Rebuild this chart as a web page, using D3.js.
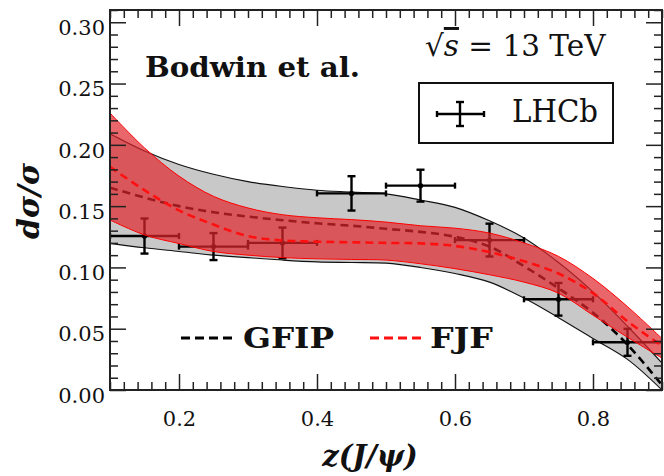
<!DOCTYPE html>
<html>
<head>
<meta charset="utf-8">
<script src="https://cdn.jsdelivr.net/npm/d3@7"></script>
<style>
  body { margin: 0; background: #fff; }
  svg { display: block; }
  text { font-family: "DejaVu Serif", serif; fill: #111; }
</style>
</head>
<body>
<svg id="chart" width="664" height="476"></svg>
<script>
// ---------------- data ----------------
const zGrid = [0.10,0.15,0.20,0.25,0.30,0.35,0.40,0.45,0.50,0.55,0.60,0.65,0.70,0.75,0.80,0.85,0.90];

const gfipUpper   = [0.209,0.195,0.184,0.176,0.170,0.166,0.163,0.1615,0.160,0.155,0.149,0.138,0.124,0.104,0.080,0.052,0.022];
const gfipCentral = [0.165,0.157,0.150,0.145,0.1415,0.1385,0.136,0.134,0.1315,0.129,0.125,0.117,0.101,0.083,0.063,0.037,0.004];
const gfipLower   = [0.1196,0.116,0.113,0.110,0.108,0.106,0.1045,0.104,0.1035,0.100,0.095,0.088,0.075,0.059,0.042,0.025,0.0];

const fjfUpper   = [0.226,0.1975,0.1745,0.158,0.1485,0.143,0.1405,0.139,0.137,0.134,0.132,0.128,0.120,0.109,0.091,0.068,0.042];
const fjfCentral = [0.182,0.163,0.1465,0.135,0.1255,0.122,0.121,0.1205,0.120,0.1196,0.1175,0.1125,0.105,0.095,0.079,0.056,0.036];
const fjfLower   = [0.1387,0.1265,0.1195,0.113,0.110,0.108,0.107,0.1065,0.106,0.103,0.099,0.094,0.088,0.079,0.061,0.043,0.026];

const lhcbZ      = [0.15,0.25,0.35,0.45,0.55,0.65,0.75,0.85];
const lhcbValue  = [0.1256,0.117,0.120,0.1604,0.1667,0.1223,0.074,0.0389];
const lhcbError  = [0.0143,0.011,0.0125,0.014,0.013,0.0134,0.0133,0.011];
const lhcbBinHalf = 0.05;

const yMajorTicks = [0.00,0.05,0.10,0.15,0.20,0.25,0.30];
const xMajorTicks = [0.2,0.4,0.6,0.8];

// ---------------- layout ----------------
const svg = d3.select("#chart");
const pL = 110, pR = 662, pT = 10, pB = 390;
const x = d3.scaleLinear().domain([0.1, 0.9]).range([pL, pR]);
const y = d3.scaleLinear().domain([0, 0.31]).range([pB, pT]);

svg.append("defs").append("clipPath").attr("id", "plotclip")
  .append("rect").attr("x", pL).attr("y", pT).attr("width", pR - pL).attr("height", pB - pT);

const plot = svg.append("g").attr("clip-path", "url(#plotclip)");
const curve = d3.curveCatmullRom.alpha(0.5);

const band = (up, lo) => d3.area().curve(curve)
  .x((d, i) => x(zGrid[i])).y0((d, i) => y(lo[i])).y1((d, i) => y(up[i]))(zGrid);
const line = arr => d3.line().curve(curve).x((d, i) => x(zGrid[i])).y((d, i) => y(arr[i]))(zGrid);

// GFIP band (grey)
plot.append("path").attr("d", band(gfipUpper, gfipLower)).attr("fill", "#c8c8c8");
plot.append("path").attr("d", line(gfipUpper)).attr("fill", "none").attr("stroke", "#111").attr("stroke-width", 1.1);
plot.append("path").attr("d", line(gfipLower)).attr("fill", "none").attr("stroke", "#111").attr("stroke-width", 1.1);
plot.append("path").attr("d", line(gfipCentral)).attr("fill", "none").attr("stroke", "#000")
  .attr("stroke-width", 2.6).attr("stroke-dasharray", "8,5");

// LHCb data points
const pts = plot.append("g").attr("stroke", "#000").attr("stroke-width", 2.4);
lhcbZ.forEach((z, i) => {
  const cx = x(z), cy = y(lhcbValue[i]);
  const x0 = x(z - lhcbBinHalf), x1 = x(z + lhcbBinHalf);
  const yt = y(lhcbValue[i] + lhcbError[i]), yb = y(lhcbValue[i] - lhcbError[i]);
  pts.append("line").attr("x1", x0).attr("x2", x1).attr("y1", cy).attr("y2", cy);
  pts.append("line").attr("x1", cx).attr("x2", cx).attr("y1", yt).attr("y2", yb);
  pts.append("line").attr("x1", cx - 4).attr("x2", cx + 4).attr("y1", yt).attr("y2", yt);
  pts.append("line").attr("x1", cx - 4).attr("x2", cx + 4).attr("y1", yb).attr("y2", yb);
  pts.append("line").attr("x1", x0).attr("x2", x0).attr("y1", cy - 3).attr("y2", cy + 3);
  pts.append("line").attr("x1", x1).attr("x2", x1).attr("y1", cy - 3).attr("y2", cy + 3);
  pts.append("circle").attr("cx", cx).attr("cy", cy).attr("r", 2.6).attr("fill", "#000").attr("stroke", "none");
});

// FJF band (red, translucent)
plot.append("path").attr("d", band(fjfUpper, fjfLower)).attr("fill", "#e0262c").attr("fill-opacity", 0.7);
plot.append("path").attr("d", line(fjfUpper)).attr("fill", "none").attr("stroke", "#f00").attr("stroke-width", 1);
plot.append("path").attr("d", line(fjfLower)).attr("fill", "none").attr("stroke", "#f00").attr("stroke-width", 1);
plot.append("path").attr("d", line(fjfCentral)).attr("fill", "none").attr("stroke", "#ff1010")
  .attr("stroke-width", 2.6).attr("stroke-dasharray", "8,5");

// ---------------- axes ----------------
const yMinor = d3.range(0, 0.3101, 0.01).filter(v => Math.abs(v * 20 - Math.round(v * 20)) > 1e-6);
const xMinor = d3.range(0.1, 0.9001, 0.02).filter(v => Math.abs(v * 5 - Math.round(v * 5)) > 1e-6);

function styleAxis(g) {
  g.select(".domain").remove();
  g.selectAll(".tick line").attr("stroke", "#222").attr("stroke-width", 1.5);
  g.selectAll(".tick text").attr("font-family", "DejaVu Serif").attr("font-size", 21).attr("fill", "#222");
}

// left
svg.append("g").attr("transform", `translate(${pL},0)`)
  .call(d3.axisLeft(y).tickValues(yMajorTicks).tickSize(-16).tickPadding(5).tickFormat(d3.format(".2f")))
  .call(styleAxis).selectAll(".tick text").attr("dy", "0.58em");
svg.append("g").attr("transform", `translate(${pL},0)`)
  .call(d3.axisLeft(y).tickValues(yMinor).tickSize(-8).tickFormat("")).call(styleAxis);
// right
svg.append("g").attr("transform", `translate(${pR},0)`)
  .call(d3.axisRight(y).tickValues(yMajorTicks).tickSize(-16).tickFormat("")).call(styleAxis);
svg.append("g").attr("transform", `translate(${pR},0)`)
  .call(d3.axisRight(y).tickValues(yMinor).tickSize(-8).tickFormat("")).call(styleAxis);
// bottom
svg.append("g").attr("transform", `translate(0,${pB})`)
  .call(d3.axisBottom(x).tickValues(xMajorTicks).tickSize(-16).tickPadding(21).tickFormat(d3.format(".1f")))
  .call(styleAxis);
svg.append("g").attr("transform", `translate(0,${pB})`)
  .call(d3.axisBottom(x).tickValues(xMinor).tickSize(-8).tickFormat("")).call(styleAxis);
// top
svg.append("g").attr("transform", `translate(0,${pT})`)
  .call(d3.axisTop(x).tickValues(xMajorTicks).tickSize(-16).tickFormat("")).call(styleAxis);
svg.append("g").attr("transform", `translate(0,${pT})`)
  .call(d3.axisTop(x).tickValues(xMinor).tickSize(-8).tickFormat("")).call(styleAxis);

// frame
svg.append("rect").attr("x", pL).attr("y", pT).attr("width", pR - pL).attr("height", pB - pT)
  .attr("fill", "none").attr("stroke", "#222").attr("stroke-width", 2);

// axis titles
svg.append("text").attr("transform", "translate(39,201) rotate(-90)").attr("text-anchor", "middle")
  .attr("font-size", 30).attr("font-weight", "bold").attr("font-style", "italic").text("dσ/σ");
svg.append("text").attr("x", 370).attr("y", 466).attr("text-anchor", "middle")
  .attr("font-size", 29).attr("font-style", "italic").attr("font-weight", "bold").text("z(J/ψ)");

// annotations
svg.append("text").attr("x", 145).attr("y", 77).attr("font-size", 28).attr("font-weight", "bold")
  .attr("textLength", 215).attr("lengthAdjust", "spacingAndGlyphs").text("Bodwin et al.");

const rs = svg.append("text").attr("x", 425).attr("y", 56).attr("font-size", 29.5);
rs.append("tspan").text("√");
rs.append("tspan").attr("font-style", "italic").style("text-decoration", "overline").text("s");
rs.append("tspan").text(" = 13 TeV");

// LHCb legend box
svg.append("rect").attr("x", 419).attr("y", 83).attr("width", 194).attr("height", 60)
  .attr("fill", "#fff").attr("stroke", "#111").attr("stroke-width", 2);
const lg = svg.append("g").attr("stroke", "#000").attr("stroke-width", 2.4);
lg.append("line").attr("x1", 437).attr("x2", 484).attr("y1", 114).attr("y2", 114);
lg.append("line").attr("x1", 460).attr("x2", 460).attr("y1", 102).attr("y2", 126);
lg.append("line").attr("x1", 456).attr("x2", 464).attr("y1", 102).attr("y2", 102);
lg.append("line").attr("x1", 456).attr("x2", 464).attr("y1", 126).attr("y2", 126);
lg.append("line").attr("x1", 437).attr("x2", 437).attr("y1", 111).attr("y2", 117);
lg.append("line").attr("x1", 484).attr("x2", 484).attr("y1", 111).attr("y2", 117);
svg.append("text").attr("x", 512).attr("y", 122).attr("font-size", 31)
  .attr("textLength", 86).attr("lengthAdjust", "spacingAndGlyphs").text("LHCb");

// model legend
svg.append("line").attr("x1", 181).attr("x2", 236).attr("y1", 338).attr("y2", 338)
  .attr("stroke", "#000").attr("stroke-width", 3).attr("stroke-dasharray", "9,5");
svg.append("text").attr("x", 243).attr("y", 348).attr("font-size", 28).attr("font-weight", "bold")
  .attr("textLength", 91).attr("lengthAdjust", "spacingAndGlyphs").text("GFIP");
svg.append("line").attr("x1", 370).attr("x2", 424).attr("y1", 338).attr("y2", 338)
  .attr("stroke", "#ff1010").attr("stroke-width", 3).attr("stroke-dasharray", "9,5");
svg.append("text").attr("x", 430).attr("y", 348).attr("font-size", 28).attr("font-weight", "bold")
  .attr("textLength", 63).attr("lengthAdjust", "spacingAndGlyphs").text("FJF");
</script>
</body>
</html>
